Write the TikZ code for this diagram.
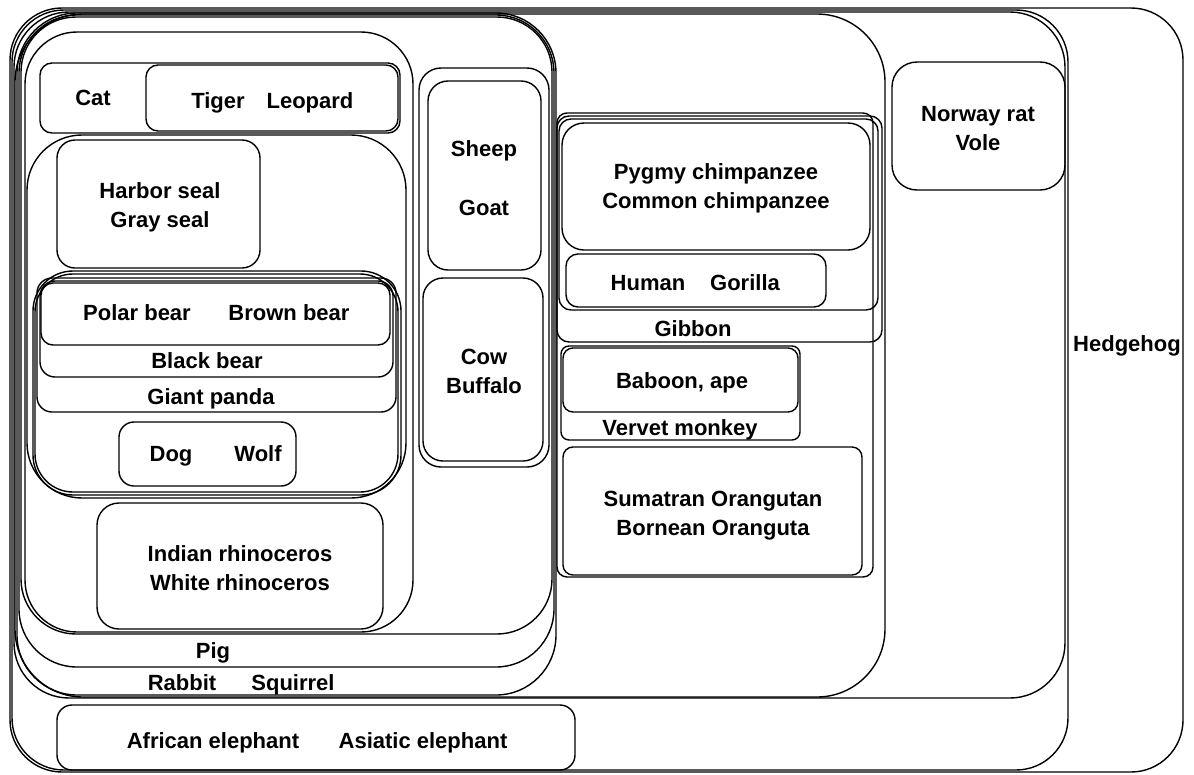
\documentclass[tikz,border=0pt]{standalone}
\usepackage{fontspec}
\setmainfont{Liberation Sans}
\newcommand\rbox[6]{\node[box,rounded corners=#6pt,minimum width={(#4)-(#2)},minimum height={(#5)-(#3)}] (#1) at ({((#2)+(#4))/2},{((#3)+(#5))/2}) {};}
\begin{document}
\begin{tikzpicture}[x=1pt,y=-1pt,
  box/.style={draw,line width=1.4pt,inner sep=0pt,outer sep=0pt},
  lbl/.style={font=\fontsize{22}{29}\selectfont\bfseries,align=center,inner sep=0pt,anchor=base}]
\useasboundingbox (0,0) rectangle (1194,774);
% outer containers
\rbox{hedge}{10}{8}{1183}{772}{52}
\rbox{boxB}{12}{10}{1068}{770}{52}
\rbox{boxC}{14}{12}{1065}{698}{55}
\rbox{boxD}{15}{14}{885}{697}{68}
\rbox{rabbit}{17}{13}{556}{695}{60}
\rbox{pig}{19}{15}{554}{667}{58}
\rbox{boxE}{21}{17}{552}{634}{55}
\rbox{boxF}{25}{32}{413}{632}{52}
% carnivores
\rbox{cat}{40}{63}{400}{133}{12}
\rbox{tiger}{146}{65}{398}{131}{12}
\rbox{boxG}{27}{135}{406}{498}{55}
\rbox{seal}{57}{140}{260}{268}{18}
\rbox{bearsA}{33}{271}{401}{495}{40}
\rbox{bearsB}{35}{274}{398}{492}{38}
\rbox{panda}{37}{278}{396}{412}{15}
\rbox{black}{40}{281}{393}{377}{15}
\rbox{polar}{41}{283}{390}{345}{12}
\rbox{dog}{119}{422}{296}{486}{15}
\rbox{rhino}{97}{503}{383}{629}{22}
% ungulates
\rbox{ungul}{419}{68}{549}{467}{22}
\rbox{sheep}{428}{81}{541}{270}{20}
\rbox{cow}{423}{278}{543}{461}{20}
% primates
\rbox{prim}{557}{113}{873}{577}{10}
\rbox{gibbon}{557}{116}{882}{342}{12}
\rbox{homin}{559}{119}{878}{310}{12}
\rbox{chimp}{562}{123}{870}{250}{22}
\rbox{human}{566}{254}{826}{307}{12}
\rbox{vervet}{561}{346}{800}{440}{8}
\rbox{baboon}{563}{348}{798}{412}{10}
\rbox{orang}{563}{447}{862}{575}{10}
% rodents, elephants
\rbox{rat}{892}{62}{1065}{190}{25}
\rbox{eleph}{57}{705}{575}{770}{15}
% labels (base anchored; multi-line nodes anchor on last line)
\node[lbl] (tCat) at (93,105) {Cat};
\node[lbl] (tTiger) at (218,108) {Tiger};
\node[lbl] (tLeopard) at (310,108) {Leopard};
\node[lbl] (tSeal) at (160,227) {Harbor seal\\Gray seal};
\node[lbl] (tPolar) at (137,320) {Polar bear};
\node[lbl] (tBrown) at (289,320) {Brown bear};
\node[lbl] (tBlack) at (207,368) {Black bear};
\node[lbl] (tPanda) at (211,404) {Giant panda};
\node[lbl] (tDog) at (171,461) {Dog};
\node[lbl] (tWolf) at (258,461) {Wolf};
\node[lbl] (tRhino) at (240,590) {Indian rhinoceros\\White rhinoceros};
\node[lbl] (tSheep) at (484,156) {Sheep};
\node[lbl] (tGoat) at (484,215) {Goat};
\node[lbl] (tCow) at (484,393) {Cow\\Buffalo};
\node[lbl] (tChimp) at (716,208) {Pygmy chimpanzee\\Common chimpanzee};
\node[lbl] (tHuman) at (648,290) {Human};
\node[lbl] (tGorilla) at (745,290) {Gorilla};
\node[lbl] (tGibbon) at (693,336) {Gibbon};
\node[lbl] (tBaboon) at (682,388) {Baboon, ape};
\node[lbl] (tVervet) at (680,435) {Vervet monkey};
\node[lbl] (tOrang) at (713,535) {Sumatran Orangutan\\Bornean Oranguta};
\node[lbl] (tRat) at (978,150) {Norway rat\\Vole};
\node[lbl] (tHedge) at (1127,351) {Hedgehog};
\node[lbl] (tPig) at (213,658) {Pig};
\node[lbl] (tRabbit) at (182,690) {Rabbit};
\node[lbl] (tSquirrel) at (293,690) {Squirrel};
\node[lbl] (tAfr) at (213,748) {African elephant};
\node[lbl] (tAsi) at (423,748) {Asiatic elephant};
\end{tikzpicture}
\end{document}
